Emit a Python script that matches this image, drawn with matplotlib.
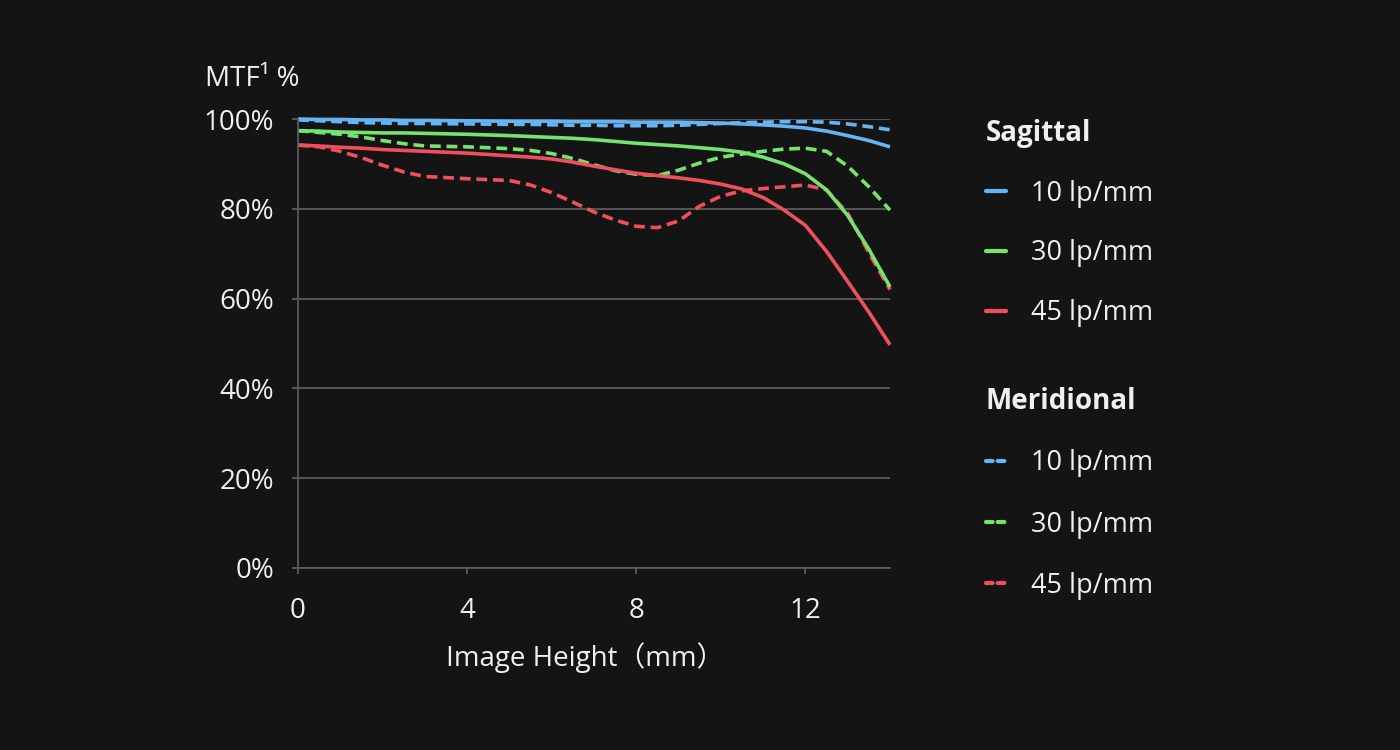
import numpy as np
import matplotlib
matplotlib.use("Agg")
from matplotlib import pyplot as plt
from matplotlib.lines import Line2D

plt.rcParams['font.family'] = ['Open Sans', 'Noto Sans CJK SC', 'DejaVu Sans']

# image height (mm) and MTF values (%)
height = [0, 0.5, 1, 1.5, 2, 2.5, 3, 4, 5, 5.5, 6, 6.5, 7, 7.5, 8, 8.5, 9,
          9.5, 10, 10.5, 11, 11.5, 12, 12.5, 13, 13.5, 14]

sag_10 = [100, 99.9, 99.9, 99.8, 99.8, 99.7, 99.7, 99.6, 99.5, 99.5, 99.5, 99.4,
          99.4, 99.4, 99.3, 99.3, 99.3, 99.2, 99.1, 98.9, 98.7, 98.4, 98.0, 97.3,
          96.3, 95.2, 93.8]
sag_30 = [97.4, 97.3, 97.1, 97.0, 96.9, 96.9, 96.8, 96.6, 96.3, 96.1, 95.9, 95.7,
          95.4, 95.0, 94.6, 94.3, 94.0, 93.6, 93.2, 92.6, 91.5, 90.0, 87.8, 84.2,
          78.5, 71.0, 62.6]
sag_45 = [94.2, 94.0, 93.7, 93.5, 93.2, 93.0, 92.8, 92.4, 91.8, 91.5, 91.1, 90.4,
          89.5, 88.7, 87.9, 87.4, 86.9, 86.3, 85.5, 84.4, 82.5, 79.7, 76.3, 70.5,
          63.8, 57.0, 49.7]

mer_10 = [99.8, 99.6, 99.4, 99.2, 99.1, 99.0, 99.0, 98.9, 98.8, 98.8, 98.7, 98.6,
          98.6, 98.5, 98.5, 98.5, 98.6, 98.8, 99.0, 99.2, 99.3, 99.4, 99.4, 99.3,
          98.9, 98.3, 97.6]
mer_30 = [97.4, 97.0, 96.6, 96.0, 95.2, 94.5, 94.0, 93.8, 93.4, 93.0, 92.3, 91.2,
          89.8, 88.5, 87.7, 87.4, 88.6, 90.2, 91.5, 92.2, 92.8, 93.3, 93.5, 92.8,
          89.5, 84.9, 79.7]
mer_45 = [94.2, 93.8, 92.8, 91.4, 89.7, 88.2, 87.2, 86.7, 86.3, 85.3, 83.6, 81.5,
          79.3, 77.5, 76.1, 75.8, 77.3, 80.6, 82.8, 84.0, 84.5, 84.9, 85.3, 84.2,
          79.0, 70.2, 62.0]

freq_labels = ['10 lp/mm', '30 lp/mm', '45 lp/mm']
x_ticks = [0, 4, 8, 12]
y_ticks = [0, 20, 40, 60, 80, 100]

BG = '#141414'
GRID = '#5c5c5c'
TXT = '#f0f0f0'
colors = ['#63b5f5', '#74e46f', '#f0505c']
dash = (3.0, 1.6)
FS = 20

fig = plt.figure(figsize=(14, 7.5), dpi=100, facecolor=BG)
ax = fig.add_axes([298 / 1400, 1 - 568 / 750, 592 / 1400, 449 / 750])
ax.set_facecolor(BG)

for c, y in zip(colors, [mer_10, mer_30, mer_45]):
    ax.plot(height, y, color=c, lw=2.6, dashes=dash, clip_on=False)
for c, y in zip(colors, [sag_10, sag_30, sag_45]):
    ax.plot(height, y, color=c, lw=2.6, solid_capstyle='butt', clip_on=False)

ax.set_xlim(0, 14)
ax.set_ylim(0, 100)
ax.set_xticks(x_ticks)
ax.set_yticks(y_ticks)
ax.set_yticklabels([f'{v}%' for v in y_ticks])
ax.yaxis.grid(True, color=GRID, lw=1.3)
ax.set_axisbelow(True)
for s in ['top', 'right']:
    ax.spines[s].set_visible(False)
for s in ['left', 'bottom']:
    ax.spines[s].set_color(GRID)
    ax.spines[s].set_linewidth(1.3)
ax.tick_params(axis='both', colors=GRID, labelcolor=TXT, labelsize=FS, width=1.3, length=4)
ax.tick_params(axis='y', pad=13)
ax.tick_params(axis='x', pad=17)
ax.set_xlabel('Image Height（mm）', color=TXT, fontsize=FS, labelpad=12)
ax.xaxis.label.set_x(0.485)

fig.text(205 / 1400, 1 - 86 / 750, 'MTF¹ %', color=TXT, fontsize=FS, va='baseline', ha='left')

def make_legend(title, style, top, spacing):
    handles = []
    for c in colors:
        if style == 'solid':
            handles.append(Line2D([], [], color=c, lw=3, solid_capstyle='round'))
        else:
            handles.append(Line2D([], [], color=c, lw=3, dashes=(1.6, 1.2), dash_capstyle='round'))
    leg = fig.legend(handles, freq_labels, loc='upper left',
                     bbox_to_anchor=(986 / 1400, 1 - top / 750), frameon=False,
                     fontsize=19.5, labelcolor=TXT, handlelength=0.75, handletextpad=0.9,
                     labelspacing=spacing, borderpad=0, borderaxespad=0,
                     title=title, alignment='left',
                     title_fontproperties={'weight': 'bold', 'size': 20})
    leg.get_title().set_color(TXT)
    return leg

make_legend('Sagittal', 'solid', 119, 1.17)
make_legend('Meridional', 'dashed', 387, 1.23)

fig.savefig('out.png', dpi=100, facecolor=BG)
